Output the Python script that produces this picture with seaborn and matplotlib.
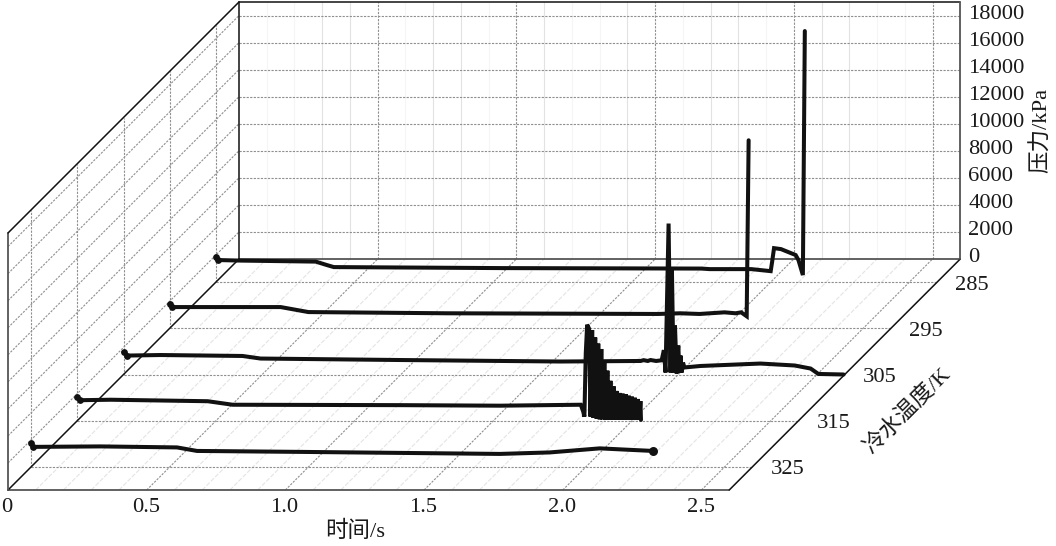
import numpy as np
import pandas as pd
import matplotlib
matplotlib.use('Agg')
import matplotlib.pyplot as plt
import seaborn as sns

sns.set_style('white')
plt.rcParams['font.family'] = ['Liberation Serif', 'Noto Sans CJK SC']

# --- DATA
temps = [325, 315, 305, 295, 285]
time_ticks = [0, 0.5, 1.0, 1.5, 2.0, 2.5]
time_labels = ['0', '0.5', '1.0', '1.5', '2.0', '2.5']
press_ticks = [0, 2000, 4000, 6000, 8000, 10000, 12000, 14000, 16000, 18000]
visible_minor = [0.3, 0.4, 0.7, 0.8, 1.1, 1.4, 1.7, 1.8, 2.1, 2.2]

t_325 = [0, .007, .25, .526, .598, .97, 1.33, 1.69, 1.87, 2.05, 2.16, 2.242]
p_325 = [1750, 1480, 1515, 1440, 1180, 1110, 1035, 960, 1070, 1370, 1260, 1180]

t_315 = [0, .01, .12, .47, .56, 1.164, 1.525, 1.815, 1.824, 1.828, 1.833, 1.838,
         1.845, 1.850, 1.856, 1.861, 1.867, 1.872, 1.878, 1.883, 1.889, 1.894,
         1.900, 1.905, 1.911, 1.916, 1.922, 1.927, 1.933, 1.938, 1.944, 1.949,
         1.955, 1.960, 1.966, 1.971, 1.977, 1.982, 1.988, 1.993, 1.999, 2.004,
         2.010, 2.015, 2.021, 2.026, 2.030, 2.032]
p_315 = [1750, 1515, 1550, 1440, 1180, 1150, 1110, 1180, 660, 300, 5000, 7100,
         6800, 300, 6700, 200, 6150, 150, 5700, 100, 5300, 100,
         4400, 80, 3700, 80, 2950, 60, 2550, 60, 2200, 60,
         2050, 60, 2000, 60, 1950, 60, 1850, 60, 1780, 60,
         1700, 60, 1600, 60, 1450, 60]

t_305 = [0, .014, .133, .429, .494, 1.0, 1.575, 1.864, 1.875, 1.89, 1.90, 1.92, 1.94, 1.948,
         1.954, 1.965, 1.972, 1.977, 1.983, 1.988, 1.994, 2.0, 2.004, 2.008, 2.012,
         2.017, 2.022, 2.08, 2.296, 2.42, 2.477, 2.505, 2.596]
p_305 = [1670, 1400, 1440, 1370, 1180, 1070, 960, 1000, 1060, 1000, 1070, 1000, 1050, 1800,
         150, 11160, 150, 7700, 150, 3620, 75, 2140, 150, 1400, 150,
         880, 520, 630, 810, 665, 440, 40, 0]

t_295 = [0, .007, .40, .50, 1.0, 1.76, 1.84, 1.91, 2.0, 2.04, 2.06, 2.08, 2.087]
p_295 = [1820, 1570, 1570, 1200, 1110, 1060, 1110, 1060, 1180, 1110, 1180, 890, 13900]

t_285 = [0, .007, .09, .36, .40, .425, 1.03, 1.75, 1.78, 1.93, 2.0, 2.005, 2.012,
         2.037, 2.09, 2.10, 2.116, 2.123]
p_285 = [1890, 1630, 1590, 1515, 1260, 1110, 1035, 1000, 960, 960, 810, 1480, 2510,
         2440, 2000, 1630, 520, 18560]

series = {325: (t_325, p_325), 315: (t_315, p_315), 305: (t_305, p_305),
          295: (t_295, p_295), 285: (t_285, p_285)}

# --- OBLIQUE PROJECTION (pixels of the picture)
X0, Y0 = 8, 490
PX_S = 277.4
PX_KPA = 257 / 19000
DEPTH = 231
T_MAX = 2.6
P_MAX = 19000


def proj(t, d, p):
    # t in s, d = 0 front .. 1 back, p in kPa
    x = X0 + np.asarray(t) * PX_S + np.asarray(d) * DEPTH
    y = Y0 - np.asarray(d) * DEPTH - np.asarray(p) * PX_KPA
    return x, y


def depth(temp):
    return (temps.index(temp) + 0.5) / len(temps)


def seg(ax, a, b, **kw):
    xa, ya = proj(*a)
    xb, yb = proj(*b)
    ax.plot([xa, xb], [ya, yb], **kw)


fig = plt.figure(figsize=(10.56, 5.46), dpi=100)
ax = fig.add_axes([0, 0, 1, 1])

major = dict(color='#8f8f8f', lw=0.8, ls=(0, (2, 1.2)), zorder=1)
minor = dict(color='#e2e2e2', lw=0.8, zorder=0)
faint = dict(color='#f5f5f5', lw=0.8, zorder=0)
floor_minor = dict(color='#e4e4e4', lw=0.8, ls=(0, (4, 1.5)), zorder=0)

# minor time lines
for i in range(27):
    tm = i / 10
    if i % 5:
        seg(ax, (tm, 0, 0), (tm, 1, 0), **floor_minor)
        style = minor if tm in visible_minor else faint
        seg(ax, (tm, 1, 0), (tm, 1, P_MAX), **style)

# --- GRID
for tm in time_ticks[1:]:
    seg(ax, (tm, 0, 0), (tm, 1, 0), **major)
    seg(ax, (tm, 1, 0), (tm, 1, P_MAX), **major)
for temp in temps:
    d = depth(temp)
    seg(ax, (0, d, 0), (T_MAX, d, 0), **major)
    seg(ax, (0, d, 0), (0, d, P_MAX), **major)
for pr in press_ticks[1:]:
    seg(ax, (0, 0, pr), (0, 1, pr), **major)
    seg(ax, (0, 1, pr), (T_MAX, 1, pr), **major)

# --- FRAME
black = dict(color='#111111', lw=1.1, zorder=2)
grey = dict(color='#555555', lw=1.3, zorder=2)
seg(ax, (0, 0, 0), (T_MAX, 0, 0), **grey)
seg(ax, (0, 1, 0), (T_MAX, 1, 0), **grey)
seg(ax, (0, 0, 0), (0, 1, 0), **black)
seg(ax, (T_MAX, 0, 0), (T_MAX, 1, 0), **black)
seg(ax, (0, 0, 0), (0, 0, P_MAX), **grey)
seg(ax, (0, 0, P_MAX), (0, 1, P_MAX), **black)
seg(ax, (0, 1, 0), (0, 1, P_MAX), **black)
seg(ax, (0, 1, P_MAX), (T_MAX, 1, P_MAX), **black)
seg(ax, (T_MAX, 1, 0), (T_MAX, 1, P_MAX), **grey)

# --- CURVES, back to front
rows = []
for temp in temps[::-1]:
    t, p = series[temp]
    x, y = proj(t, depth(temp), p)
    rows.append(pd.DataFrame({'x': x, 'y': y, 'temp': temp, 'order': range(len(t))}))
df = pd.concat(rows, ignore_index=True)

sns.lineplot(data=df, x='x', y='y', units='temp', estimator=None, sort=False,
             color='#111111', lw=2.9, ax=ax, zorder=5, solid_joinstyle='miter')

# blobs where the records start and where the 325 K one stops
ends = df[df['order'] <= 1]
sns.scatterplot(data=ends, x='x', y='y', color='#111111', s=24, linewidth=0, ax=ax, zorder=6)
last = df[df['temp'] == 325].tail(1)
sns.scatterplot(data=last, x='x', y='y', color='#111111', s=42, linewidth=0, ax=ax, zorder=6)

# --- TEXT
fs = 16.2
ink = '#1a1a1a'
for tm, lab in zip(time_ticks, time_labels):
    x, y = proj(tm, 0, 0)
    ax.text(x - 1, y + 18, lab, ha='center', va='center', fontsize=fs, color=ink)
for temp in temps:
    x, y = proj(T_MAX, depth(temp), 0)
    ax.text(x + 35, y + 3, str(temp), ha='center', va='center', fontsize=fs, color=ink)
for pr in press_ticks:
    x, y = proj(T_MAX, 1, pr)
    ax.text(x + 8, y - 1.5, str(pr), ha='left', va='center', fontsize=fs, color=ink)

ax.text(355, 531, '时间/s', ha='center', va='center', fontsize=fs, color=ink)
ax.text(1041, 130, '压力/kPa', ha='center', va='center', rotation=90, fontsize=fs, color=ink)
ax.text(908, 411, '冷水温度/K', ha='center', va='center', rotation=45, fontsize=fs, color=ink)

ax.set_xlim(0, 1056)
ax.set_ylim(546, 0)
ax.set_xlabel('')
ax.set_ylabel('')
ax.axis('off')

fig.savefig('out.png', dpi=100)
